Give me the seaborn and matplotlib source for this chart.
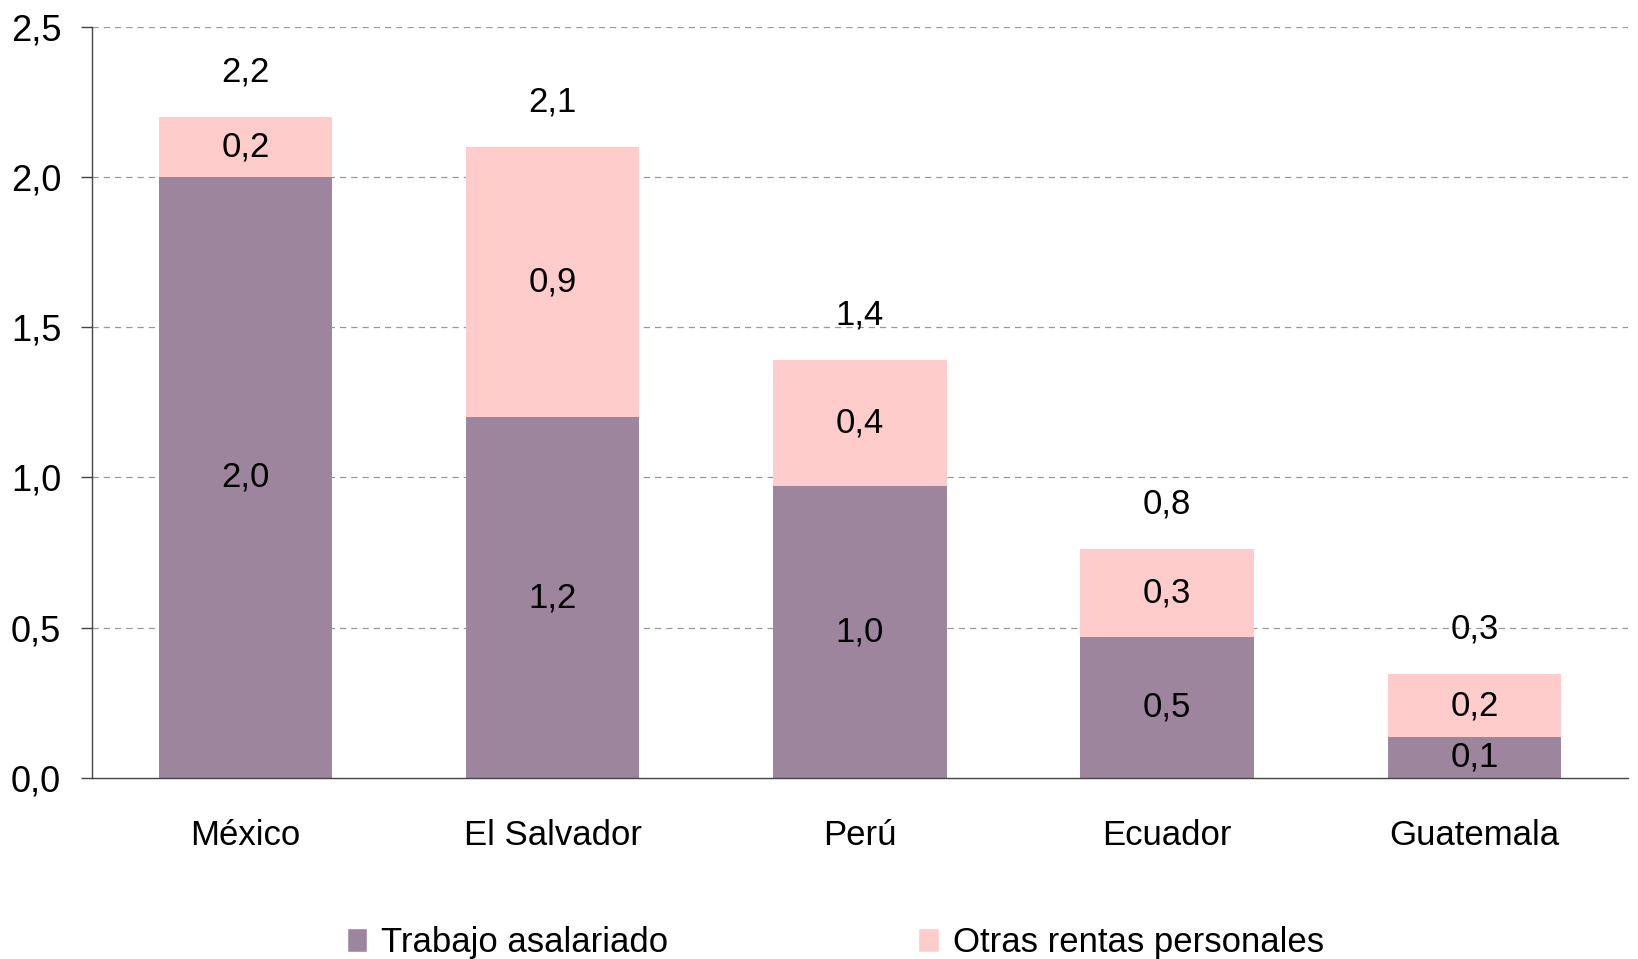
import numpy as np
import pandas as pd
import matplotlib
matplotlib.use("Agg")
import matplotlib.pyplot as plt
import seaborn as sns
from matplotlib.patches import Patch
from matplotlib.ticker import FixedLocator

# Data
PAISES = ["México", "El Salvador", "Perú", "Ecuador", "Guatemala"]
TRABAJO = [2.0, 1.2, 0.97, 0.47, 0.135]
OTRAS = [0.2, 0.9, 0.42, 0.29, 0.21]

TOTAL_LABELS = ["2,2", "2,1", "1,4", "0,8", "0,3"]
TRABAJO_LABELS = ["2,0", "1,2", "1,0", "0,5", "0,1"]
OTRAS_LABELS = ["0,2", "0,9", "0,4", "0,3", "0,2"]
Y_TICKS = [0.0, 0.5, 1.0, 1.5, 2.0, 2.5]
Y_TICK_LABELS = ["0,0", "0,5", "1,0", "1,5", "2,0", "2,5"]

# Style
C_TRABAJO = "#9E859E"
C_OTRAS = "#FFCCCC"
FONT_SIZE = 25
BAR_WIDTH = 0.565

sns.set_theme(style="white")
plt.rcParams["font.family"] = ["Liberation Sans", "DejaVu Sans"]
plt.rcParams["text.color"] = "black"
plt.rcParams["xtick.color"] = "black"
plt.rcParams["ytick.color"] = "black"

df = pd.DataFrame({"pais": PAISES, "trabajo": TRABAJO, "otras": OTRAS})
df["total"] = df["trabajo"] + df["otras"]

fig = plt.figure(figsize=(16.38, 9.59), dpi=100)
ax = fig.add_axes([0.056, 0.189, 0.938, 0.783])

# stacked: draw totals in pink, then the bottom segment on top
sns.barplot(data=df, x="pais", y="total", color=C_OTRAS, width=BAR_WIDTH,
            saturation=1, linewidth=0, ax=ax, zorder=2)
sns.barplot(data=df, x="pais", y="trabajo", color=C_TRABAJO, width=BAR_WIDTH,
            saturation=1, linewidth=0, ax=ax, zorder=3)

ax.set_xlim(-0.5, len(PAISES) - 0.5)
ax.set_ylim(0, 2.5)
ax.set_yticks(Y_TICKS)
ax.set_yticklabels(Y_TICK_LABELS, fontsize=FONT_SIZE + 1)
ax.set_xticks(range(len(PAISES)))
ax.set_xticklabels(PAISES, fontsize=FONT_SIZE)
ax.xaxis.set_minor_locator(FixedLocator(np.arange(-0.5, len(PAISES), 1.0)))
ax.tick_params(axis="x", which="major", length=0, pad=30)
ax.tick_params(axis="x", which="minor", length=8, width=1, color="#444444", direction="out")
ax.tick_params(axis="y", length=8, width=1, color="#444444", direction="out", pad=14, left=True)
ax.set_xlabel("")
ax.set_ylabel("")

for y in Y_TICKS[1:]:
    ax.axhline(y, color="#999999", lw=0.9, ls=(0, (5, 4)), zorder=1)

for side in ["top", "right"]:
    ax.spines[side].set_visible(False)
for side in ["left", "bottom"]:
    ax.spines[side].set_color("#444444")
    ax.spines[side].set_linewidth(1)
ax.spines["bottom"].set_zorder(4)

# value labels
for i, row in df.iterrows():
    ax.text(i, row["trabajo"] / 2, TRABAJO_LABELS[i], ha="center", va="center",
            fontsize=FONT_SIZE, zorder=5)
    ax.text(i, row["trabajo"] + row["otras"] / 2, OTRAS_LABELS[i], ha="center",
            va="center", fontsize=FONT_SIZE, zorder=5)
    ax.text(i, row["total"] + 0.15, TOTAL_LABELS[i], ha="center", va="center",
            fontsize=FONT_SIZE, zorder=5)

handles = [
    Patch(facecolor=C_TRABAJO, label="Trabajo asalariado"),
    Patch(facecolor=C_OTRAS, label="Otras rentas personales"),
]
fig.legend(handles=handles, loc="center", bbox_to_anchor=(0.51, 0.017), ncol=2,
           frameon=False, fontsize=FONT_SIZE, handlelength=0.6, handleheight=0.7,
           handletextpad=0.4, columnspacing=7.2)

fig.savefig("out.png", dpi=100)
plt.close(fig)
